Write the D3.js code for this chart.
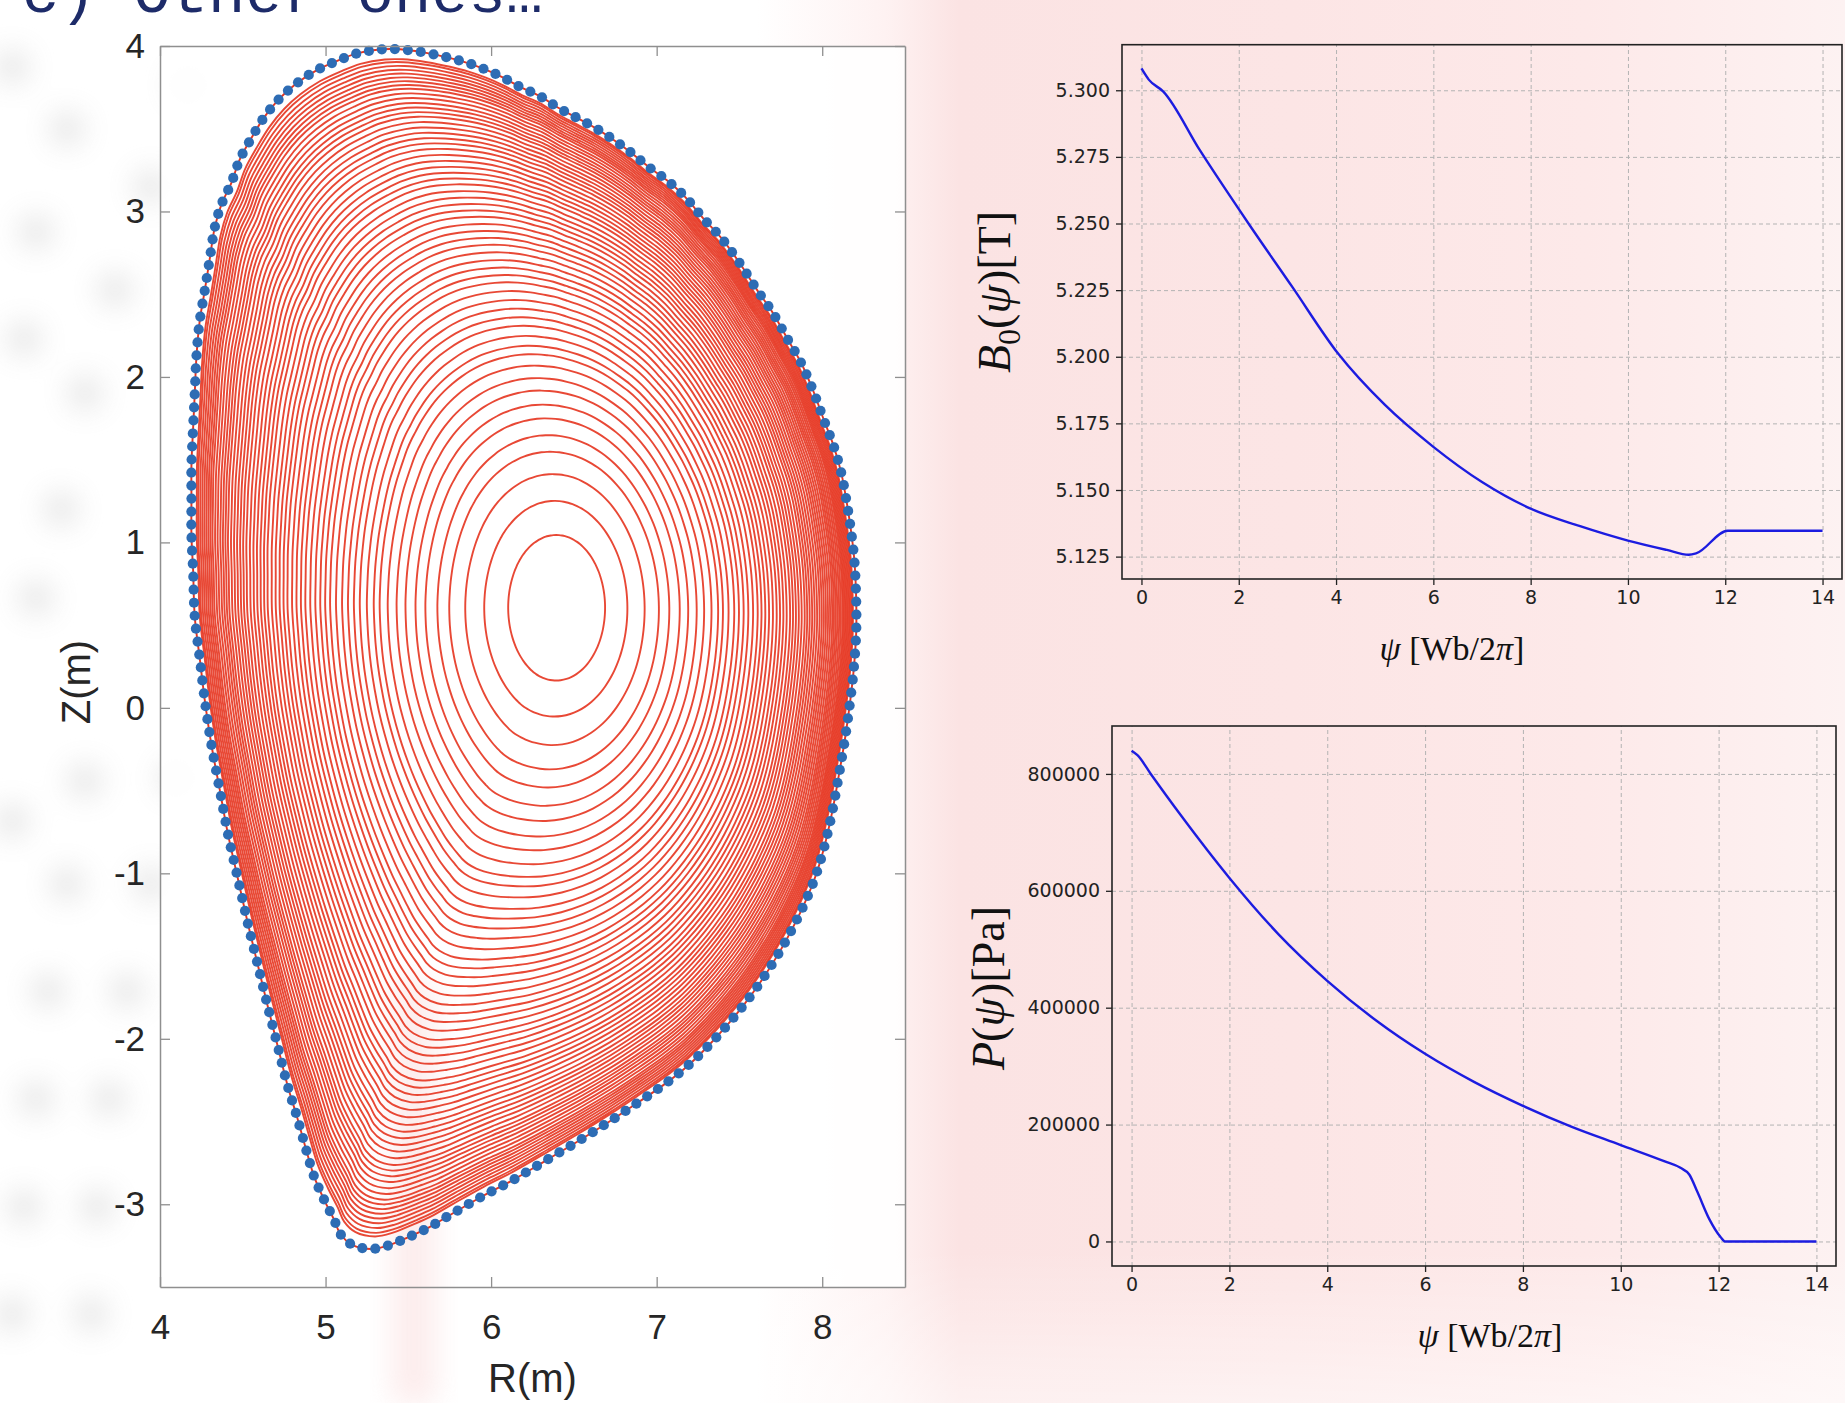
<!DOCTYPE html>
<html>
<head>
<meta charset="utf-8">
<script src="https://cdn.jsdelivr.net/npm/d3@7"></script>
<style>
  html, body { margin: 0; padding: 0; background: #fff; overflow: hidden; }
  svg { display: block; }
</style>
</head>
<body>
<script>
// ---- data -------------------------------------------------------------

// plasma boundary (blue markers), clockwise from the top, metres
var boundaryR = [5.19, 5.34, 5.45, 5.60, 5.74, 5.85, 5.96, 6.07, 6.18, 6.29,
                 6.40, 6.51, 6.62, 6.73, 6.84, 6.95, 7.06, 7.17, 7.28, 7.39,
                 7.50, 7.61, 7.70, 7.79, 7.87, 7.94, 8.01, 8.07, 8.115, 8.15,
                 8.178, 8.195, 8.205, 8.205, 8.19, 8.17, 8.14, 8.10, 8.06, 8.01,
                 7.955, 7.885, 7.79, 7.715, 7.625, 7.53, 7.415, 7.295, 7.18, 7.04,
                 6.88, 6.715, 6.54, 6.34, 6.12, 5.95, 5.76, 5.625, 5.52, 5.39,
                 5.28, 5.16, 5.09, 5.05, 4.99, 4.93, 4.88, 4.83, 4.77, 4.71,
                 4.65, 4.59, 4.53, 4.47, 4.41, 4.36, 4.31, 4.27, 4.24, 4.21,
                 4.20, 4.19, 4.19, 4.19, 4.20, 4.21, 4.22, 4.24, 4.27, 4.30,
                 4.33, 4.37, 4.43, 4.48, 4.55, 4.63, 4.72, 4.82, 4.94, 5.07];
var boundaryZ = [3.955, 3.98, 3.98, 3.96, 3.93, 3.90, 3.86, 3.81, 3.75, 3.70,
                 3.63, 3.57, 3.51, 3.44, 3.36, 3.27, 3.19, 3.09, 2.96, 2.84,
                 2.69, 2.52, 2.39, 2.23, 2.09, 1.93, 1.74, 1.58, 1.42, 1.23,
                 1.04, 0.88, 0.66, 0.45, 0.23, 0.05, -0.17, -0.41, -0.63, -0.85,
                 -1.03, -1.20, -1.39, -1.52, -1.66, -1.79, -1.93, -2.06, -2.17, -2.28,
                 -2.39, -2.50, -2.61, -2.73, -2.86, -2.95, -3.06, -3.14, -3.19, -3.245,
                 -3.27, -3.245, -3.18, -3.09, -2.97, -2.83, -2.66, -2.48, -2.28, -2.04,
                 -1.80, -1.55, -1.30, -1.03, -0.76, -0.49, -0.22, 0.05, 0.30, 0.55,
                 0.83, 1.04, 1.26, 1.47, 1.69, 1.90, 2.12, 2.34, 2.52, 2.71,
                 2.90, 3.04, 3.17, 3.31, 3.44, 3.57, 3.68, 3.77, 3.85, 3.91];

// magnetic axis [R, Z] and elongation of the innermost surfaces
var magAxis = [6.40, 0.61];
var coreElongation = 1.5;

// inboard crossing R of every drawn flux surface, core -> edge
var surfaceRin = [6.103, 5.958, 5.843, 5.746, 5.674, 5.601, 5.541, 5.480, 5.426, 5.372,
                  5.323, 5.287, 5.245, 5.202, 5.166, 5.130, 5.094, 5.057, 5.021, 4.991,
                  4.961, 4.931, 4.900, 4.870, 4.843, 4.816, 4.789, 4.761, 4.737, 4.713,
                  4.689, 4.665, 4.640, 4.619, 4.598, 4.577, 4.556, 4.535, 4.514, 4.495,
                  4.477, 4.459, 4.441, 4.423, 4.405, 4.390, 4.375, 4.360, 4.344, 4.329,
                  4.314, 4.302, 4.290, 4.278, 4.266, 4.254, 4.242, 4.230, 4.221];

var rTicks = [4, 5, 6, 7, 8];
var zTicks = [-3, -2, -1, 0, 1, 2, 3, 4];

// B0(psi)
var psiB = [0, 0.15, 0.45, 1.2, 2.2, 3.1, 4.05, 5.0, 6.0, 7.0, 8.0, 9.0, 10.0, 10.8, 11.25, 11.4, 12.05, 14.0];
var b0   = [5.3082, 5.3040, 5.2995, 5.2775, 5.2500, 5.2262, 5.2010, 5.1820, 5.1662, 5.1530,
            5.1430, 5.1365, 5.1310, 5.1275, 5.1257, 5.1262, 5.1347, 5.1347];

// P(psi)
var psiP = [0, 0.12, 0.4, 1.0, 2.0, 3.0, 4.0, 5.0, 6.0, 7.0, 8.0, 9.0, 10.0, 10.9,
            11.22, 11.4, 11.57, 11.81, 12.04, 12.13, 14.0];
var pres = [839700, 832000, 799000, 730000, 622000, 526000, 446000, 378000, 321000, 273000,
            232000, 196000, 165000, 137000, 126000, 114500, 84000, 38200, 7600, 0, 0];

var psiTicks = [0, 2, 4, 6, 8, 10, 12, 14];
var b0Ticks = [5.125, 5.150, 5.175, 5.200, 5.225, 5.250, 5.275, 5.300];
var presTicks = [0, 200000, 400000, 600000, 800000];

// ---- page -------------------------------------------------------------
var W = 1845, H = 1403;
var svg = d3.select("body").append("svg").attr("width", W).attr("height", H);
var defs = svg.append("defs");

var grad = defs.append("linearGradient").attr("id", "bg").attr("x1", 0).attr("x2", 1).attr("y1", 0).attr("y2", 0);
[[0, "#ffffff"], [0.41, "#ffffff"], [0.48, "#fef2f2"], [0.52, "#fbe3e3"], [0.70, "#fce5e5"],
 [0.86, "#fde9e9"], [1, "#fdf2f2"]].forEach(function (s) {
    grad.append("stop").attr("offset", s[0]).attr("stop-color", s[1]);
});
var fade = defs.append("linearGradient").attr("id", "fade").attr("x1", 0).attr("x2", 0).attr("y1", 0).attr("y2", 1);
fade.append("stop").attr("offset", 0).attr("stop-color", "#fff").attr("stop-opacity", 0);
fade.append("stop").attr("offset", 1).attr("stop-color", "#fff").attr("stop-opacity", 0.5);
defs.append("filter").attr("id", "soft").attr("x", "-50%").attr("y", "-50%").attr("width", "200%").attr("height", "200%")
    .append("feGaussianBlur").attr("stdDeviation", 14);

svg.append("rect").attr("width", W).attr("height", H).attr("fill", "url(#bg)");
svg.append("rect").attr("y", 1250).attr("width", W).attr("height", H - 1250).attr("fill", "url(#fade)");

// blurred spots of the slide picture behind the left panel (decoration)
var spots = svg.append("g").attr("filter", "url(#soft)").attr("fill", "#c8c8c8").attr("opacity", 0.45);
[[12, 67], [67, 129], [188, 85], [36, 232], [115, 290], [151, 187], [24, 339], [85, 393],
 [61, 509], [36, 598], [85, 781], [176, 778], [12, 821], [67, 884], [151, 884], [48, 991],
 [127, 991], [36, 1099], [109, 1099], [24, 1207], [97, 1207], [12, 1314], [91, 1314]]
    .forEach(function (p) { spots.append("circle").attr("cx", p[0]).attr("cy", p[1]).attr("r", 17); });

// slide title, cut by the top edge
svg.append("text")
    .attr("x", 22).attr("y", 12)
    .style("font-family", "'Liberation Mono', 'DejaVu Sans Mono', monospace")
    .style("font-size", "62px")
    .attr("fill", "#1d2b69")
    .text("c) Other ones\u2026");

// ---- left: flux surfaces ---------------------------------------------
var rx = d3.scaleLinear().domain([4, 8.5]).range([160, 905]);
var zy = d3.scaleLinear().domain([-3.5, 4]).range([1287, 46]);

var nB = boundaryR.length;
var cbR = (d3.min(boundaryR) + d3.max(boundaryR)) / 2,
    cbZ = (d3.min(boundaryZ) + d3.max(boundaryZ)) / 2,
    aB = (d3.max(boundaryR) - d3.min(boundaryR)) / 2,
    kB = (d3.max(boundaryZ) - d3.min(boundaryZ)) / 2 / aB;
var shiftR = cbR - magAxis[0], shiftZ = cbZ - magAxis[1];

// normalised radius from the inboard crossing (Rin = R0 + shift*rho^2 - a*rho)
function rhoOf(rin) {
    var d = magAxis[0] - rin, q = -shiftR;
    return q === 0 ? d / aB : (-aB + Math.sqrt(aB * aB + 4 * q * d)) / (2 * q);
}

// surface: core ellipse blended into the boundary shape, shifted outward
function surface(rho) {
    var w = rho * rho;
    return d3.range(nB).map(function (i) {
        var dr = boundaryR[i] - cbR, dz = boundaryZ[i] - cbZ;
        var th = Math.atan2(dz / kB, dr);
        var er = aB * Math.cos(th), ez = aB * coreElongation * Math.sin(th);
        return [magAxis[0] + shiftR * w + rho * ((1 - w) * er + w * dr),
                magAxis[1] + shiftZ * w + rho * ((1 - w) * ez + w * dz)];
    });
}

var gL = svg.append("g");
gL.append("rect")
    .attr("x", rx(4)).attr("y", zy(4))
    .attr("width", rx(8.5) - rx(4)).attr("height", zy(-3.5) - zy(4))
    .attr("fill", "#fff").attr("opacity", 0.88);
// faint band of the slide background showing through
gL.append("rect").attr("x", 392).attr("y", 980).attr("width", 44).attr("height", H - 980)
    .attr("fill", "#f9d6d6").attr("opacity", 0.45).attr("filter", "url(#soft)");

var surfLine = d3.line()
    .x(function (d) { return rx(d[0]); })
    .y(function (d) { return zy(d[1]); })
    .curve(d3.curveCatmullRomClosed.alpha(0.5));

gL.selectAll("path.flux")
    .data(surfaceRin.map(rhoOf))
    .join("path")
    .attr("class", "flux")
    .attr("d", function (rho) { return surfLine(surface(rho)); })
    .attr("fill", "none")
    .attr("stroke", "#e5341f")
    .attr("stroke-opacity", 0.9)
    .attr("stroke-width", 1.9);

var boundary = d3.range(nB).map(function (i) { return [boundaryR[i], boundaryZ[i]]; });
var bPath = gL.append("path")
    .attr("d", surfLine(boundary))
    .attr("fill", "none")
    .attr("stroke", "#e5341f")
    .attr("stroke-width", 1.9);

// markers along the boundary curve
var bNode = bPath.node(), bLen = bNode.getTotalLength(), nDots = Math.round(bLen / 13);
var bDots = d3.range(nDots).map(function (k) {
    var p = bNode.getPointAtLength(k * bLen / nDots);
    return [rx.invert(p.x), zy.invert(p.y)];
});
gL.selectAll("circle.bdot")
    .data(bDots)
    .join("circle")
    .attr("class", "bdot")
    .attr("cx", function (d) { return rx(d[0]); })
    .attr("cy", function (d) { return zy(d[1]); })
    .attr("r", 5.1)
    .attr("fill", "#2d6cb4");

function boxAxis(g) {
    g.select(".domain").attr("stroke", "#8f8f8f").attr("stroke-width", 1.5);
    g.selectAll(".tick line").attr("stroke", "#8f8f8f").attr("stroke-width", 1.3);
    g.selectAll(".tick text")
        .attr("fill", "#262626")
        .style("font-family", "'Liberation Sans', Arial, sans-serif")
        .style("font-size", "35px");
}
var plain = function (d) { return String(d); };

gL.append("g").attr("transform", "translate(0," + zy(-3.5) + ")")
    .call(d3.axisBottom(rx).tickValues(rTicks).tickSize(-10).tickSizeOuter(0).tickPadding(27).tickFormat(plain))
    .call(boxAxis);
gL.append("g").attr("transform", "translate(0," + zy(4) + ")")
    .call(d3.axisTop(rx).tickValues(rTicks).tickSize(-10).tickSizeOuter(0).tickFormat(""))
    .call(boxAxis);
gL.append("g").attr("transform", "translate(" + rx(4) + ",0)")
    .call(d3.axisLeft(zy).tickValues(zTicks).tickSize(-10).tickSizeOuter(0).tickPadding(15).tickFormat(plain))
    .call(boxAxis);
gL.append("g").attr("transform", "translate(" + rx(8.5) + ",0)")
    .call(d3.axisRight(zy).tickValues(zTicks).tickSize(-10).tickSizeOuter(0).tickFormat(""))
    .call(boxAxis);

gL.append("text")
    .attr("transform", "translate(76,682) rotate(-90)")
    .attr("text-anchor", "middle").attr("dy", "0.35em")
    .style("font-family", "'Liberation Sans', Arial, sans-serif").style("font-size", "40px")
    .attr("fill", "#262626")
    .text("Z(m)");
gL.append("text")
    .attr("x", (rx(4) + rx(8.5)) / 2).attr("y", 1392)
    .attr("text-anchor", "middle")
    .style("font-family", "'Liberation Sans', Arial, sans-serif").style("font-size", "40px")
    .attr("fill", "#262626")
    .text("R(m)");

// ---- right: profiles --------------------------------------------------
function mathText(g, x, y, rotate, size, parts) {
    var t = g.append("text")
        .attr("transform", "translate(" + x + "," + y + ")" + (rotate ? " rotate(-90)" : ""))
        .attr("text-anchor", "middle")
        .style("font-family", "'Liberation Serif', 'DejaVu Serif', serif")
        .style("font-size", size + "px")
        .attr("fill", "#111");
    parts.forEach(function (p) {
        var s = t.append("tspan").text(p.t);
        if (p.it) s.style("font-style", "italic");
        if (p.sub) s.style("font-size", (size * 0.7) + "px").attr("dy", size * 0.22);
        if (p.up) s.attr("dy", -size * 0.22);
    });
    return t;
}

function gridStyle(g) {
    g.select(".domain").remove();
    g.selectAll(".tick line").attr("stroke", "#b3b3b3").attr("stroke-width", 1).attr("stroke-dasharray", "4,3");
}
function profAxis(g) {
    g.select(".domain").remove();
    g.selectAll(".tick line").attr("stroke", "#222").attr("stroke-width", 1.3);
    g.selectAll(".tick text")
        .attr("fill", "#222")
        .style("font-family", "'DejaVu Sans', sans-serif")
        .style("font-size", "19px");
}

function profile(cfg) {
    var g = svg.append("g");
    var x = d3.scaleLinear().domain([-0.4, 14.4]).range(cfg.xRange);
    var y = d3.scaleLinear().domain(cfg.yDomain).range(cfg.yRange);
    var w = cfg.xRange[1] - cfg.xRange[0], h = cfg.yRange[0] - cfg.yRange[1];

    g.append("g").attr("transform", "translate(0," + cfg.yRange[0] + ")")
        .call(d3.axisBottom(x).tickValues(psiTicks).tickSize(-h).tickFormat(""))
        .call(gridStyle);
    g.append("g").attr("transform", "translate(" + cfg.xRange[0] + ",0)")
        .call(d3.axisLeft(y).tickValues(cfg.yTicks).tickSize(-w).tickFormat(""))
        .call(gridStyle);

    g.append("path")
        .datum(d3.zip(cfg.xs, cfg.ys))
        .attr("d", d3.line()
            .x(function (d) { return x(d[0]); })
            .y(function (d) { return y(d[1]); })
            .curve(d3.curveMonotoneX))
        .attr("fill", "none")
        .attr("stroke", "#1c1ce0")
        .attr("stroke-width", 2.4);

    g.append("g").attr("transform", "translate(0," + cfg.yRange[0] + ")")
        .call(d3.axisBottom(x).tickValues(psiTicks).tickSize(6).tickPadding(6).tickFormat(d3.format("d")))
        .call(profAxis);
    g.append("g").attr("transform", "translate(" + cfg.xRange[0] + ",0)")
        .call(d3.axisLeft(y).tickValues(cfg.yTicks).tickSize(6).tickPadding(6).tickFormat(cfg.fmt))
        .call(profAxis);

    g.append("rect")
        .attr("x", cfg.xRange[0]).attr("y", cfg.yRange[1])
        .attr("width", w).attr("height", h)
        .attr("fill", "none").attr("stroke", "#222").attr("stroke-width", 1.6);

    mathText(g, (cfg.xRange[0] + cfg.xRange[1]) / 2 + cfg.xLabelDx, cfg.yRange[0] + 81, false, 34,
        [{t: "\u03c8", it: true}, {t: " [Wb/2"}, {t: "\u03c0", it: true}, {t: "]"}]);
    mathText(g, cfg.yLabelX, cfg.yLabelY, true, 46, cfg.yLabel)
        .attr("dy", "0.35em");
}

profile({
    xRange: [1122, 1842], yRange: [579, 44.7], yDomain: [5.1166, 5.3171],
    xs: psiB, ys: b0, yTicks: b0Ticks, fmt: d3.format(".3f"),
    yLabelX: 994, yLabelY: 292, xLabelDx: -30,
    yLabel: [{t: "B", it: true}, {t: "0", sub: true}, {t: "(", up: true}, {t: "\u03c8", it: true}, {t: ")[T]"}]
});
profile({
    xRange: [1112, 1836], yRange: [1266, 726], yDomain: [-42000, 882000],
    xs: psiP, ys: pres, yTicks: presTicks, fmt: d3.format("d"),
    yLabelX: 988, yLabelY: 988, xLabelDx: 16,
    yLabel: [{t: "P", it: true}, {t: "("}, {t: "\u03c8", it: true}, {t: ")[Pa]"}]
});
</script>
</body>
</html>
